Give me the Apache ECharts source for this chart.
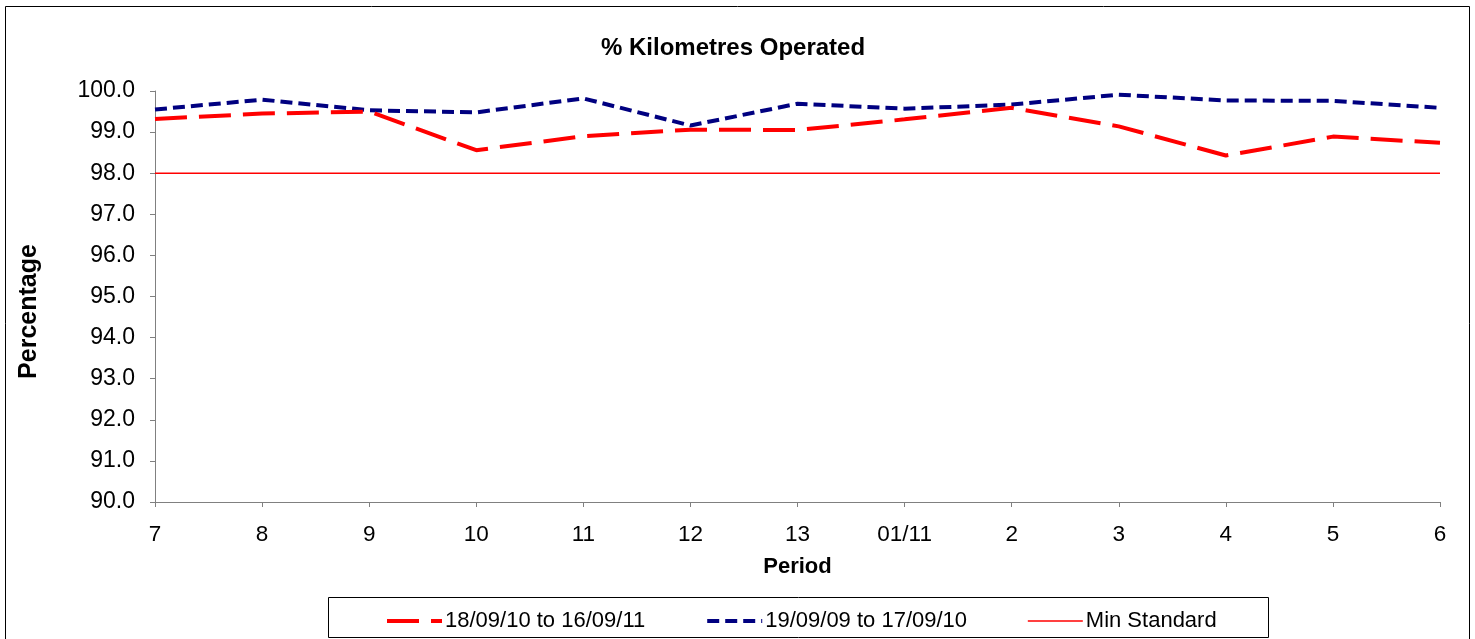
<!DOCTYPE html>
<html>
<head>
<meta charset="utf-8">
<script src="https://cdn.jsdelivr.net/npm/echarts@6/dist/echarts.min.js"></script>
<style>
html,body{margin:0;padding:0;background:#fff;}
#chart{width:1475px;height:639px;}
</style>
</head>
<body>
<div id="chart"></div>
<script>
const periods = ['7','8','9','10','11','12','13','01/11','2','3','4','5','6'];
const series2010 = [99.32, 99.45, 99.50, 98.56, 98.90, 99.06, 99.05, 99.31, 99.59, 99.14, 98.43, 98.89, 98.74];
const series2009 = [99.55, 99.79, 99.53, 99.48, 99.82, 99.16, 99.69, 99.57, 99.67, 99.91, 99.77, 99.76, 99.59];
const minStandard = [98, 98, 98, 98, 98, 98, 98, 98, 98, 98, 98, 98, 98];
const seriesNames = ['18/09/10 to 16/09/11', '19/09/09 to 17/09/10', 'Min Standard'];

const FONT = '"Liberation Sans", Arial, sans-serif';
const chart = echarts.init(document.getElementById('chart'));
chart.setOption({
  animation: false,
  backgroundColor: '#fff',
  title: {
    text: '% Kilometres Operated',
    left: 596,
    top: 31,
    textStyle: {fontFamily: FONT, fontSize: 24, fontWeight: 'bold', color: '#000'}
  },
  graphic: [
    {type: 'rect', shape: {x: 5.5, y: 6.5, width: 1464, height: 650}, style: {fill: null, stroke: '#000', lineWidth: 1}, silent: true, z: -10},
    {type: 'rect', shape: {x: 328.5, y: 597.5, width: 940, height: 40}, style: {fill: null, stroke: '#000', lineWidth: 1}, silent: true, z: -10}
  ],
  legend: {
    left: 380,
    top: 605,
    itemWidth: 55,
    itemHeight: 14,
    itemGap: 60,
    itemStyle: {opacity: 0},
    textStyle: {fontFamily: FONT, fontSize: 22, color: '#000', padding: [0,0,0,-2]},
    data: [
      {name: seriesNames[0], lineStyle: {width: 4, type: [32, 12], color: '#FF0000'}},
      {name: seriesNames[1], lineStyle: {width: 4, type: [12, 6], color: '#000080'}},
      {name: seriesNames[2], lineStyle: {width: 1.5, type: 'solid', color: '#FF0000'}}
    ]
  },
  grid: {left: 155, right: 35, top: 91, bottom: 137, containLabel: false},
  xAxis: {
    type: 'category',
    data: periods,
    boundaryGap: false,
    name: 'Period',
    nameLocation: 'middle',
    nameGap: 54,
    nameTextStyle: {fontFamily: FONT, fontSize: 22, fontWeight: 'bold', color: '#000'},
    axisLine: {lineStyle: {color: '#808080', width: 1}},
    axisTick: {show: true, length: 5, lineStyle: {color: '#808080'}},
    axisLabel: {fontFamily: FONT, fontSize: 22.5, color: '#000', margin: 21},
    splitLine: {show: false}
  },
  yAxis: {
    type: 'value',
    min: 90,
    max: 100,
    interval: 1,
    name: 'Percentage',
    nameLocation: 'middle',
    nameGap: 113,
    nameRotate: 90,
    nameTextStyle: {fontFamily: FONT, fontSize: 25, fontWeight: 'bold', color: '#000', padding: [0, 30, 0, 0]},
    axisLine: {show: true, lineStyle: {color: '#808080', width: 1}},
    axisTick: {show: true, length: 5, lineStyle: {color: '#808080'}},
    axisLabel: {fontFamily: FONT, fontSize: 23, color: '#000', margin: 20, formatter: v => v.toFixed(1)},
    splitLine: {show: false}
  },
  series: [
    {
      name: seriesNames[0], type: 'line', data: series2010, symbol: 'none', z: 3,
      itemStyle: {color: '#FF0000'},
      lineStyle: {color: '#FF0000', width: 4, type: [32, 12]}
    },
    {
      name: seriesNames[1], type: 'line', data: series2009, symbol: 'none', z: 2,
      itemStyle: {color: '#000080'},
      lineStyle: {color: '#000080', width: 4, type: [12, 6]}
    },
    {
      name: seriesNames[2], type: 'line', data: minStandard, symbol: 'none', z: 1,
      itemStyle: {color: '#FF0000'},
      lineStyle: {color: '#FF0000', width: 1.5, type: 'solid'}
    }
  ]
});
</script>
</body>
</html>
